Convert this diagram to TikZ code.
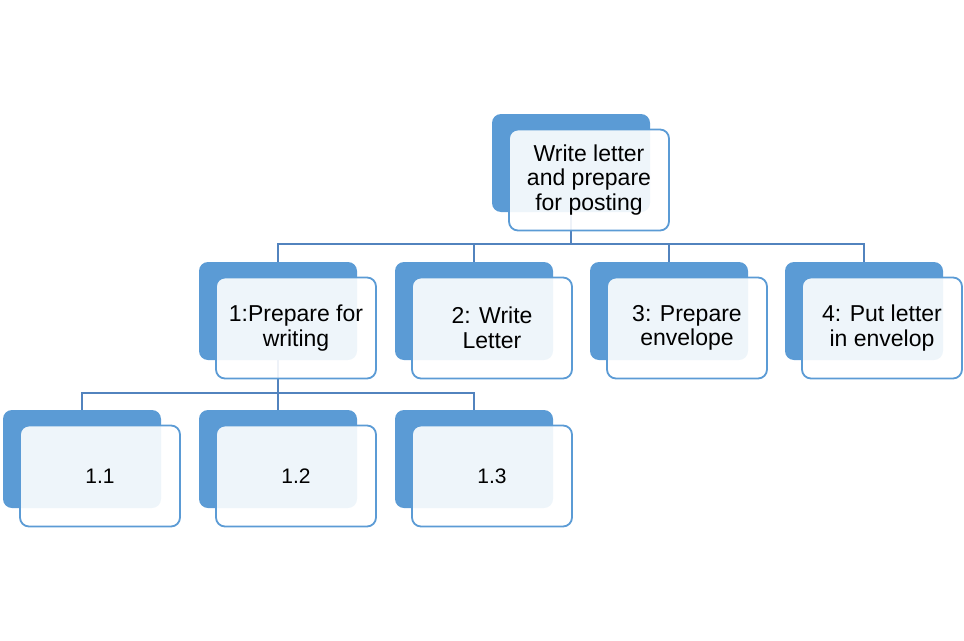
\documentclass[tikz,border=0pt]{standalone}
\usepackage{fontspec}
\setmainfont{Liberation Sans}
\definecolor{boxblue}{HTML}{5B9BD5}
\definecolor{linkblue}{HTML}{5283BE}
\tikzset{
  backbox/.style={fill=boxblue, rounded corners=9pt, inner sep=0pt,
    minimum width=158pt, minimum height=98pt},
  frontbox/.style={draw=boxblue, line width=1.8pt, fill=white, fill opacity=0.9,
    text opacity=1, rounded corners=9pt, inner sep=0pt, align=center,
    minimum width=160pt, minimum height=101pt,
    font=\fontsize{23}{24.5}\selectfont},
  leafbox/.style={frontbox, font=\fontsize{21}{24}\selectfont},
  link/.style={draw=linkblue, line width=1.5pt}
}
\begin{document}
\begin{tikzpicture}[x=1pt,y=-1pt]
\useasboundingbox (0,0) rectangle (964,640);
% back boxes
\node[backbox] (b0) at (571,163) {};
\node[backbox] (b1) at (278,311) {};
\node[backbox] (b2) at (474,311) {};
\node[backbox] (b3) at (669,311) {};
\node[backbox] (b4) at (864,311) {};
\node[backbox] (b11) at (82,459) {};
\node[backbox] (b12) at (278,459) {};
\node[backbox] (b13) at (474,459) {};
% connectors
\foreach \k in {1,2,3,4}
  \draw[link] (b0.south) -- ++(0,32) -| (b\k.north);
\foreach \k in {11,12,13}
  \draw[link] (b1.south) -- ++(0,33) -| (b\k.north);
% front boxes
\node[frontbox, xshift=18pt, yshift=-17pt] (f0) at (b0) {Write letter\\and prepare\\for posting};
\node[frontbox, xshift=18pt, yshift=-17pt] (f1) at (b1) {1:Prepare for\\writing};
\node[frontbox, xshift=18pt, yshift=-17pt] (f2) at (b2) {2: Write\\Letter};
\node[frontbox, xshift=18pt, yshift=-17pt] (f3) at (b3) {3: Prepare\\envelope};
\node[frontbox, xshift=18pt, yshift=-17pt] (f4) at (b4) {4: Put letter\\in envelop};
\node[leafbox, xshift=18pt, yshift=-17pt] (f11) at (b11) {1.1};
\node[leafbox, xshift=18pt, yshift=-17pt] (f12) at (b12) {1.2};
\node[leafbox, xshift=18pt, yshift=-17pt] (f13) at (b13) {1.3};
\end{tikzpicture}
\end{document}
